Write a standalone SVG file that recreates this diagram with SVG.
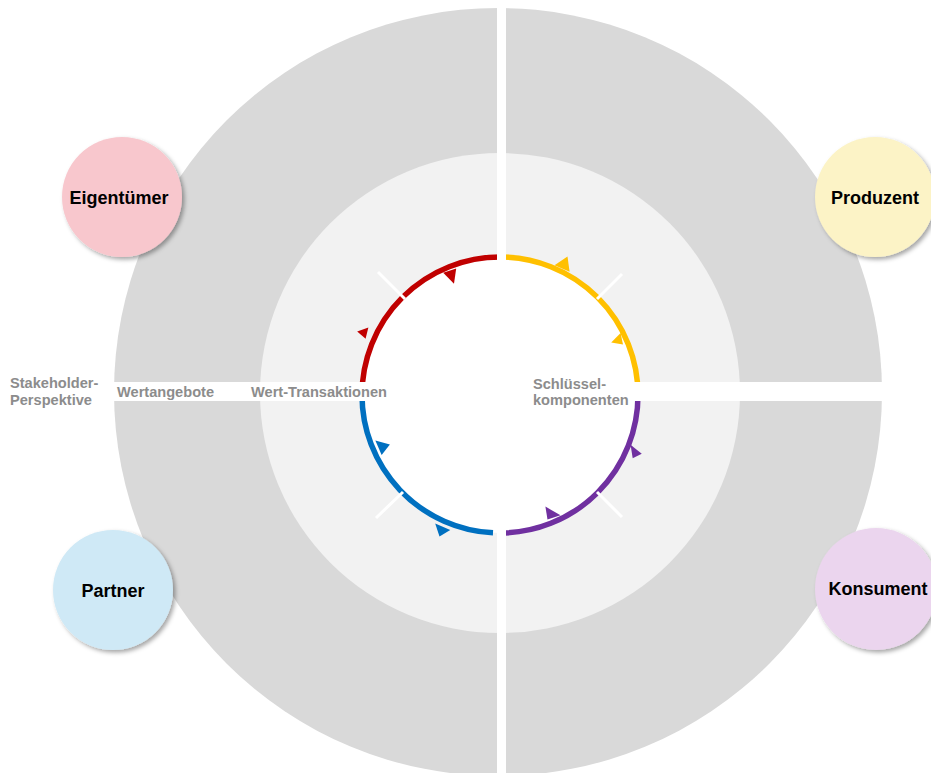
<svg xmlns="http://www.w3.org/2000/svg" width="931" height="773" viewBox="0 0 931 773">
  <defs>
    <filter id="shadow" x="-20%" y="-20%" width="150%" height="150%">
      <feDropShadow dx="2.5" dy="2.5" stdDeviation="2" flood-color="#000" flood-opacity="0.35"/>
    </filter>
    <style>
      .lbl { font-family: "Liberation Sans", Arial, sans-serif; font-weight: bold; font-size: 14.6px; fill: #8c8c8c; }
      .node-text { font-family: "Liberation Sans", Arial, sans-serif; font-weight: bold; font-size: 18px; fill: #000; text-anchor: middle; }
      .ring { fill: none; stroke-width: 5.5; }
      .tick { stroke: #fff; stroke-width: 3; }
    </style>
  </defs>
  <rect width="931" height="773" fill="#fff"/>

  <!-- background rings -->
  <g id="rings">
    <circle cx="498" cy="392" r="384" fill="#d9d9d9"/>
    <circle cx="500" cy="393" r="240" fill="#f2f2f2"/>
    <circle cx="500" cy="395" r="138" fill="#fff"/>
  </g>

  <!-- coloured cycle segments and their arrowheads -->
  <g id="connectors">
    <path class="ring" stroke="#c00000" d="M 500 257 A 138 138 0 0 0 362 395"/>
    <path class="ring" stroke="#ffc000" d="M 500 257 A 138 138 0 0 1 638 395"/>
    <path class="ring" stroke="#7030a0" d="M 638 395 A 138 138 0 0 1 500 533"/>
    <path class="ring" stroke="#0070c0" d="M 362 395 A 138 138 0 0 0 493 532.8"/>

    <!-- quadrant dividers -->
    <rect x="497" y="0" width="9" height="773" fill="#fff"/>
    <rect x="0" y="382" width="931" height="19" fill="#fff"/>
    <line class="tick" x1="405" y1="299" x2="378" y2="272"/>
    <line class="tick" x1="597" y1="299" x2="622" y2="274"/>
    <line class="tick" x1="403" y1="492" x2="376" y2="518"/>
    <line class="tick" x1="597" y1="492" x2="622" y2="517"/>

    <polygon fill="#c00000" transform="translate(451,275) scale(1.3) translate(-451,-275)" points="445,273.3 455,270 453.3,281.7"/>
    <polygon fill="#c00000" transform="translate(363.5,332.5) scale(1.4) translate(-363.5,-332.5)" points="359,331.7 367,329 365,337"/>
    <polygon fill="#ffc000" transform="translate(564,264.5) scale(1.3) translate(-564,-264.5)" points="556.7,265 566.7,258.3 568.3,270"/>
    <polygon fill="#ffc000" transform="translate(618.5,340) scale(1.4) translate(-618.5,-340)" points="613.3,341.7 620,335 621.7,343.3"/>
    <polygon fill="#7030a0" transform="translate(635,452) scale(1.35) translate(-635,-452)" points="631.7,446.7 640,453.3 633.3,456.7"/>
    <polygon fill="#7030a0" transform="translate(551,514) scale(1.3) translate(-551,-514)" points="546.7,508.3 558.3,515 548.3,518.3"/>
    <polygon fill="#0070c0" transform="translate(382,446.7) scale(1.25) translate(-382,-446.7)" points="376.7,441.7 388.3,445 381.7,453.3"/>
    <polygon fill="#0070c0" transform="translate(441.7,530) scale(1.3) translate(-441.7,-530)" points="436.7,525 448.3,530 440,535"/>
  </g>

  <!-- ring labels -->
  <g id="labels">
    <text class="lbl" x="10" y="388">Stakeholder-</text>
    <text class="lbl" x="10" y="405">Perspektive</text>
    <text class="lbl" x="117" y="397">Wertangebote</text>
    <text class="lbl" x="251" y="397">Wert-Transaktionen</text>
    <text class="lbl" x="533" y="389">Schlüssel-</text>
    <text class="lbl" x="533" y="405">komponenten</text>
  </g>

  <!-- stakeholders -->
  <g id="eigentuemer">
    <circle cx="122" cy="197" r="60" fill="#f8c7cd" filter="url(#shadow)"/>
    <text class="node-text" x="119" y="204">Eigentümer</text>
  </g>
  <g id="produzent">
    <circle cx="875" cy="197" r="60" fill="#fcf3c6" filter="url(#shadow)"/>
    <text class="node-text" x="875" y="204">Produzent</text>
  </g>
  <g id="partner">
    <circle cx="113" cy="590" r="60" fill="#cfe9f6" filter="url(#shadow)"/>
    <text class="node-text" x="113" y="597">Partner</text>
  </g>
  <g id="konsument">
    <circle cx="876" cy="589" r="61" fill="#ebd5ee" filter="url(#shadow)"/>
    <text class="node-text" x="878" y="595">Konsument</text>
  </g>
</svg>
